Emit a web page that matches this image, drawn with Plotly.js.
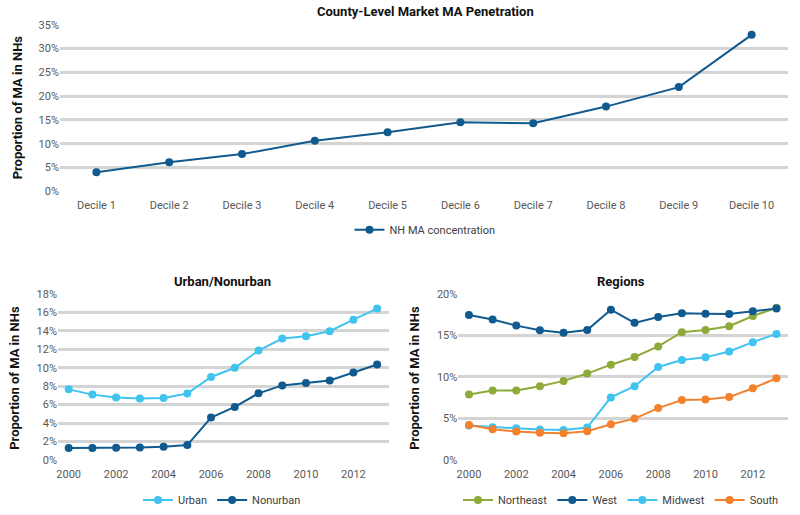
<!DOCTYPE html>
<html>
<head>
<meta charset="utf-8">
<script src="https://cdn.plot.ly/plotly-3.0.1.min.js"></script>
<style>html,body{margin:0;padding:0;background:#fff;}#chart{width:800px;height:515px;}</style>
</head>
<body>
<div id="chart"></div>
<script>
// ---- Data ----
const deciles = ["Decile 1","Decile 2","Decile 3","Decile 4","Decile 5","Decile 6","Decile 7","Decile 8","Decile 9","Decile 10"];
const nhConcentration = [0.040, 0.061, 0.078, 0.106, 0.124, 0.145, 0.143, 0.178, 0.219, 0.329];

const years = [2000,2001,2002,2003,2004,2005,2006,2007,2008,2009,2010,2011,2012,2013];
const urban    = [0.0765,0.0708,0.0676,0.0665,0.0672,0.0719,0.0899,0.0999,0.1185,0.1315,0.1340,0.1394,0.1520,0.1640];
const nonurban = [0.0129,0.0129,0.0133,0.0136,0.0144,0.0162,0.0460,0.0575,0.0722,0.0808,0.0834,0.0862,0.0948,0.1035];

const northeast = [0.0789,0.0836,0.0836,0.0888,0.0952,0.1040,0.1147,0.1239,0.1366,0.1537,0.1565,0.1609,0.1732,0.1832];
const west      = [0.1744,0.1690,0.1617,0.1560,0.1530,0.1565,0.1808,0.1650,0.1720,0.1765,0.1760,0.1756,0.1790,0.1824];
const midwest   = [0.0414,0.0394,0.0382,0.0366,0.0362,0.0390,0.0753,0.0888,0.1119,0.1203,0.1235,0.1306,0.1418,0.1517];
const south     = [0.0422,0.0370,0.0343,0.0327,0.0323,0.0347,0.0430,0.0498,0.0625,0.0721,0.0729,0.0757,0.0864,0.0984];

// ---- Styles ----
const DARK = "#105a8f", LIGHT = "#41c3f0", GREEN = "#8eaa3a", ORANGE = "#f3812e";
const FONT = "Roboto, 'Open Sans', sans-serif";
function tr(x, y, name, color, xa, ya, legend) {
  return {x, y, name, type: "scatter", mode: "lines+markers", xaxis: xa, yaxis: ya, legend, showlegend: true,
    line: {color, width: 2}, marker: {color, size: 8}, cliponaxis: false};
}
const traces = [
  tr(deciles, nhConcentration, "NH MA concentration", DARK, "x", "y", "legend"),
  tr(years, urban, "Urban", LIGHT, "x2", "y2", "legend2"),
  tr(years, nonurban, "Nonurban", DARK, "x2", "y2", "legend2"),
  tr(years, northeast, "Northeast", GREEN, "x3", "y3", "legend3"),
  tr(years, west, "West", DARK, "x3", "y3", "legend3"),
  tr(years, midwest, "Midwest", LIGHT, "x3", "y3", "legend3"),
  tr(years, south, "South", ORANGE, "x3", "y3", "legend3")
];

const tickFont = {family: FONT, size: 11, color: "#595959"};
const yBase = {showgrid: true, gridcolor: "#d4d4d4", gridwidth: 3, zeroline: false, showline: false,
  tickformat: ".0%", tickfont: tickFont, ticks: "", fixedrange: true};
const xBase = {showgrid: false, zeroline: false, showline: false, ticks: "", tickfont: tickFont, ticklabelstandoff: 6};

const H = 515, W = 800;
const py = v => 1 - v / H, px = v => v / W;

const legBase = {orientation: "h", xanchor: "center", yanchor: "middle", font: {family: FONT, size: 11, color: "#404040"},
  bgcolor: "rgba(0,0,0,0)", itemwidth: 30, tracegroupgap: 0};

const titleFont = {family: FONT, size: 13, color: "#111", weight: "bold"};
function ann(text, x, y, angle) {
  return {text: "<b>" + text + "</b>", x: px(x), y: py(y), xref: "paper", yref: "paper", showarrow: false,
    xanchor: "center", yanchor: "middle", textangle: angle || 0, font: titleFont};
}

const layout = {
  width: W, height: H, margin: {l: 0, r: 0, t: 0, b: 0}, showlegend: true,
  paper_bgcolor: "#fff", plot_bgcolor: "#fff", font: {family: FONT},
  xaxis: Object.assign({}, xBase, {domain: [px(60), px(788)], anchor: "y", type: "category", range: [-0.5, 9.5]}),
  yaxis: Object.assign({}, yBase, {domain: [py(192.3), py(25)], anchor: "x", range: [0, 0.35], dtick: 0.05}),
  xaxis2: Object.assign({}, xBase, {domain: [px(58), px(389)], anchor: "y2", range: [1999.55, 2013.5], dtick: 2, tick0: 2000}),
  yaxis2: Object.assign({}, yBase, {domain: [py(462.7), py(295.5)], anchor: "x2", range: [0, 0.18], dtick: 0.02}),
  xaxis3: Object.assign({}, xBase, {domain: [px(458.3), px(788.3)], anchor: "y3", range: [1999.55, 2013.5], dtick: 2, tick0: 2000}),
  yaxis3: Object.assign({}, yBase, {domain: [py(462.7), py(295.5)], anchor: "x3", range: [0, 0.20], dtick: 0.05}),
  legend: Object.assign({}, legBase, {x: px(425), y: py(231)}),
  legend2: Object.assign({}, legBase, {x: px(222), y: py(503)}),
  legend3: Object.assign({}, legBase, {x: px(621), y: py(503)}),
  annotations: [
    ann("County-Level Market MA Penetration", 425, 12),
    ann("Urban/Nonurban", 222, 283),
    ann("Regions", 621, 283),
    ann("Proportion of MA in NHs", 17, 108, -90),
    ann("Proportion of MA in NHs", 15, 380, -90),
    ann("Proportion of MA in NHs", 415, 380, -90)
  ]
};

Plotly.newPlot("chart", traces, layout, {displayModeBar: false, staticPlot: true});
</script>
</body>
</html>
